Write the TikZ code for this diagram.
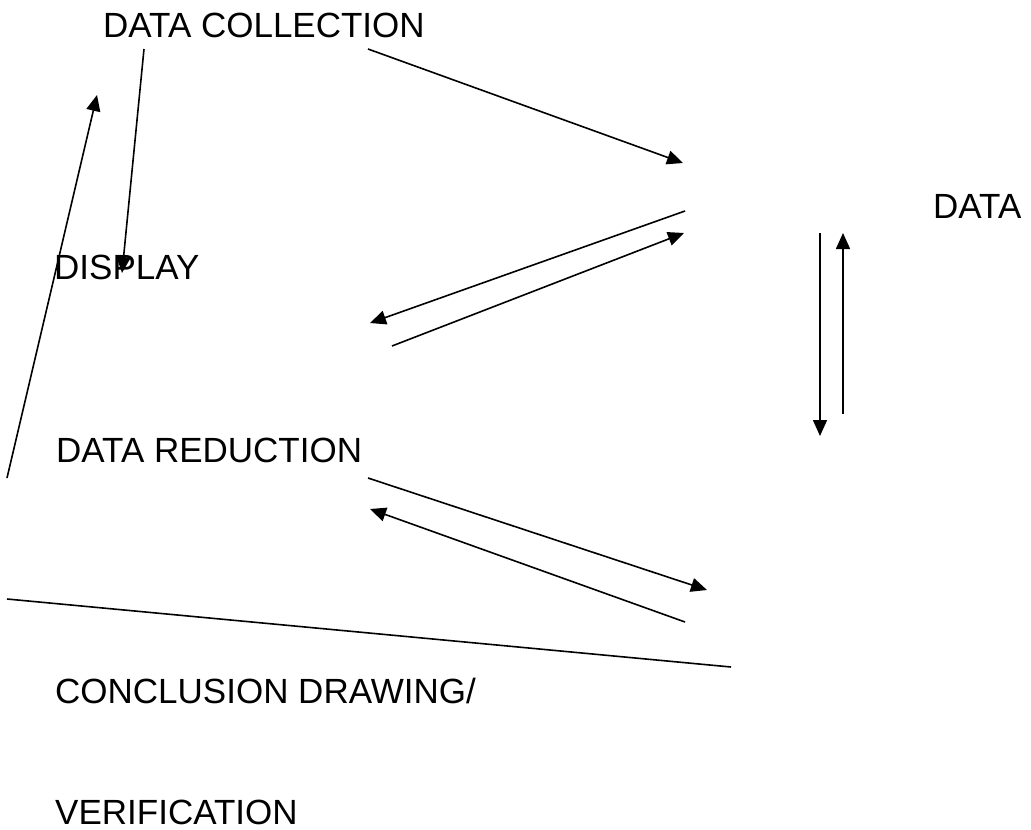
\documentclass[tikz,border=0pt]{standalone}
\usepackage{fontspec}
\setmainfont{Liberation Sans}
\usetikzlibrary{arrows.meta}
\tikzset{
  lbl/.style={anchor=base west, inner sep=0pt, font=\fontsize{35pt}{40pt}\selectfont},
  conn/.style={line width=1.6pt, -{Triangle[length=16pt,width=14pt]}},
  plain/.style={line width=1.6pt}
}
\begin{document}
\begin{tikzpicture}[x=1pt,y=-1pt]
\useasboundingbox (0,0) rectangle (1031,830);
\node[lbl] (dc) at (103,37) {DATA COLLECTION};
\node[lbl] (data) at (933,218) {DATA};
\node[lbl] (disp) at (54,279) {DISPLAY};
\node[lbl] (dr) at (56,462) {DATA REDUCTION};
\node[lbl] (cd) at (55,703) {CONCLUSION DRAWING/};
\node[lbl] (ver) at (55,824) {VERIFICATION};
\coordinate (a1) at (368,49);  \coordinate (b1) at (683,163);
\coordinate (a2) at (144,49);  \coordinate (b2) at (122,273);
\coordinate (a3) at (7,478);   \coordinate (b3) at (97,95);
\coordinate (a4) at (685,211); \coordinate (b4) at (370,323);
\coordinate (a5) at (392,346); \coordinate (b5) at (684,233);
\coordinate (a6) at (820,233); \coordinate (b6) at (820,436);
\coordinate (a7) at (843,414); \coordinate (b7) at (843,233);
\coordinate (a8) at (368,478); \coordinate (b8) at (707,590);
\coordinate (a9) at (685,622); \coordinate (b9) at (370,509);
\coordinate (a10) at (7,599);  \coordinate (b10) at (731,667);
\draw[conn] (a1) -- (b1);
\draw[conn] (a2) -- (b2);
\draw[conn] (a3) -- (b3);
\draw[conn] (a4) -- (b4);
\draw[conn] (a5) -- (b5);
\draw[conn] (a6) -- (b6);
\draw[conn] (a7) -- (b7);
\draw[conn] (a8) -- (b8);
\draw[conn] (a9) -- (b9);
\draw[plain] (a10) -- (b10);
\end{tikzpicture}
\end{document}
